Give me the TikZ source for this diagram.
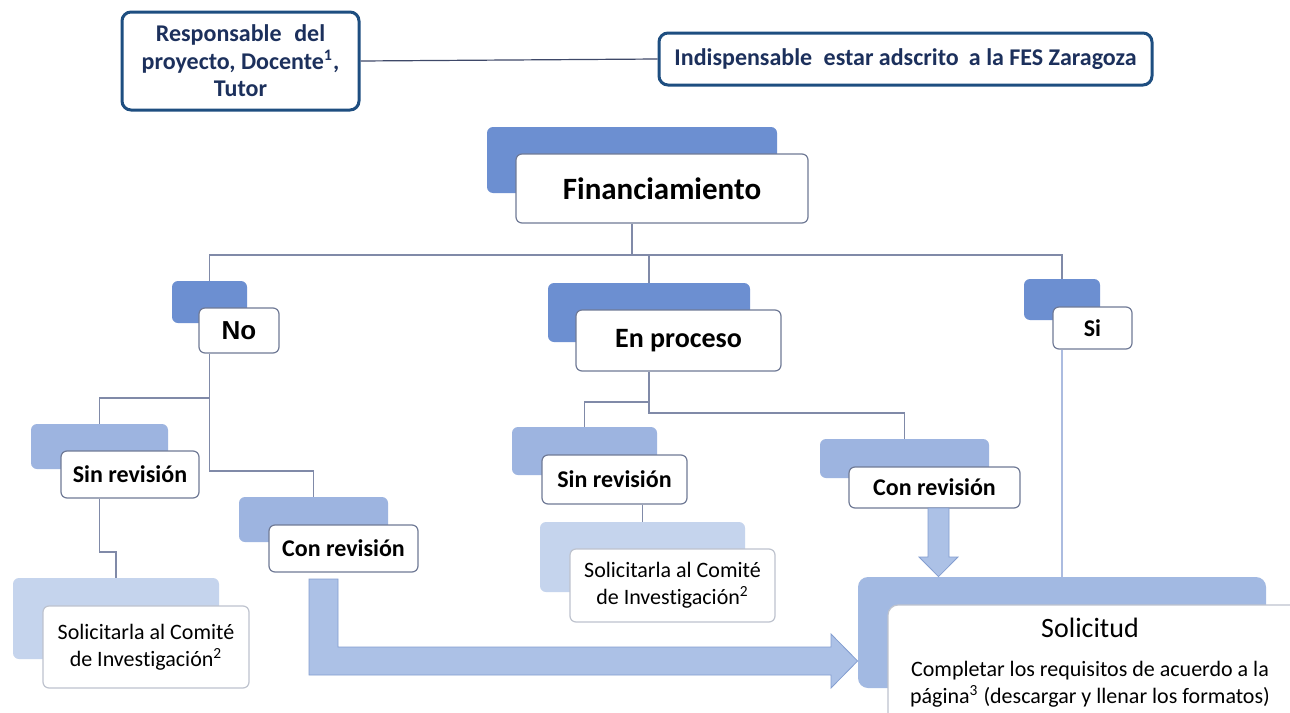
\documentclass[tikz,border=0pt]{standalone}
\usepackage{fontspec}
\setmainfont{Carlito}[Ligatures=NoCommon]
\newfontfamily\arialf{Liberation Sans}
\usetikzlibrary{calc}
\definecolor{backA}{RGB}{108,143,209}
\definecolor{backB}{RGB}{157,180,224}
\definecolor{backC}{RGB}{197,212,237}
\definecolor{backS}{RGB}{162,185,226}
\definecolor{frontline}{RGB}{112,122,150}
\definecolor{lightline}{RGB}{190,195,206}
\definecolor{connc}{RGB}{128,138,168}
\definecolor{siline}{RGB}{172,188,224}
\definecolor{navyline}{RGB}{30,78,128}
\definecolor{navytext}{RGB}{28,48,92}
\definecolor{toplink}{RGB}{62,72,104}
\definecolor{arrowfill}{RGB}{172,193,230}
\definecolor{arrowline}{RGB}{132,158,208}
\begin{document}
\begin{tikzpicture}[x=0.5pt,y=-0.5pt,
  box/.style={inner sep=0pt, align=center, rounded corners=3pt},
  backbox/.style={box, draw=none},
  frontbox/.style={box, fill=white, draw=frontline, line width=0.6pt},
  softbox/.style={box, fill=white, draw=lightline, line width=0.6pt},
  topbox/.style={box, fill=white, draw=navyline, line width=1.5pt, rounded corners=4.5pt, text=navytext, font=\fontsize{12}{13.8}\selectfont\bfseries},
  lbl/.style={font=\fontsize{12}{14}\selectfont\bfseries},
  sollbl/.style={font=\fontsize{11}{13.5}\selectfont},
  conn/.style={draw=connc, line width=0.6pt},
  blockarrow/.style={fill=arrowfill, draw=arrowline, line width=0.4pt}
]
\useasboundingbox (0,0) rectangle (1290,712);
\fill[white] (0,0) rectangle (1290,712);

% top boxes
\node[topbox, minimum width=118.5pt, minimum height=49pt] (resp) at (240.5,61)
  {Responsable\hspace{0.3em} del\\proyecto, Docente\textsuperscript{1},\\Tutor};
\node[topbox, minimum width=246.5pt, minimum height=26pt] (ind) at (905.5,59)
  {Indispensable\hspace{0.25em} estar adscrito\hspace{0.2em} a la FES Zaragoza};
\draw[draw=toplink, line width=0.6pt] (resp.east) -- (ind.west);

% Financiamiento
\node[backbox, fill=backA, minimum width=145pt, minimum height=33pt] (finB) at (632,160) {};
\node[frontbox, minimum width=146pt, minimum height=34.5pt, font=\fontsize{15.5}{18}\selectfont\bfseries] (fin) at (662,188.5) {Financiamiento};

% level 1
\node[backbox, fill=backA, minimum width=37.5pt, minimum height=21pt] (noB) at (209.5,302) {};
\node[frontbox, minimum width=40pt, minimum height=22.5pt, font=\fontsize{13}{15}\selectfont\arialf\bfseries] (no) at (239,330.5) {No};

\node[backbox, fill=backA, minimum width=101pt, minimum height=29.5pt] (epB) at (649,312.5) {};
\node[frontbox, minimum width=102.5pt, minimum height=30.5pt, font=\fontsize{14}{16}\selectfont\bfseries] (ep) at (678.5,340.5) {En proceso};

\node[backbox, fill=backA, minimum width=38pt, minimum height=20.5pt] (siB) at (1062,299.5) {};
\node[frontbox, lbl, minimum width=39.5pt, minimum height=21pt] (si) at (1092.5,328) {Si};

% level 2 (No)
\node[backbox, fill=backB, minimum width=68.5pt, minimum height=22.5pt] (sinLB) at (99.5,446.5) {};
\node[frontbox, lbl, minimum width=69pt, minimum height=23.5pt] (sinL) at (130,474.5) {Sin revisión};

\node[backbox, fill=backB, minimum width=74.5pt, minimum height=22.5pt] (conLB) at (313.5,519.5) {};
\node[frontbox, lbl, minimum width=74.5pt, minimum height=23.5pt] (conL) at (343.5,548.5) {Con revisión};

% level 2 (En proceso)
\node[backbox, fill=backB, minimum width=72.5pt, minimum height=24pt] (sinMB) at (584.5,451) {};
\node[frontbox, lbl, minimum width=72.5pt, minimum height=24.5pt] (sinM) at (614.5,479.5) {Sin revisión};

\node[backbox, fill=backB, minimum width=84.5pt, minimum height=19.5pt] (conMB) at (904.5,458.5) {};
\node[frontbox, lbl, minimum width=85.5pt, minimum height=20.5pt] (conM) at (934.5,487.5) {Con revisión};

% level 3
\node[backbox, fill=backC, minimum width=103pt, minimum height=40.5pt] (solLB) at (116,618.5) {};
\node[softbox, sollbl, minimum width=103pt, minimum height=41pt] (solL) at (146,647) {Solicitarla al Comité\\de Investigación\textsuperscript{2}};

\node[backbox, fill=backC, minimum width=102.5pt, minimum height=35pt] (solMB) at (642.5,557) {};
\node[softbox, sollbl, minimum width=102.5pt, minimum height=36.5pt] (solM) at (672.5,585.5) {Solicitarla al Comité\\de Investigación\textsuperscript{2}};

% Solicitud
\node[backbox, fill=backS, rounded corners=5pt, minimum width=204pt, minimum height=55.5pt] (solB) at (1062,632.5) {};
\node[softbox, rounded corners=5pt, minimum width=211pt, minimum height=62.5pt] (sol) at (1099,667.5) {};
\node[align=center, inner sep=0pt, font=\fontsize{11}{13.5}\selectfont] (solT) at (1090,663)
  {\fontsize{14}{17}\selectfont Solicitud\\[6pt]\fontsize{11}{13.5}\selectfont Completar los requisitos de acuerdo a la\\página\textsuperscript{3} (descargar y llenar los formatos)};

% connectors
\coordinate (j0) at (632,255);
\draw[conn] (finB.center |- fin.south) -- (j0);
\draw[conn] (noB.north) |- (j0) -| (siB.north);
\draw[conn] (epB.north) -- (epB.north |- j0);

\draw[conn] (noB.center |- no.south) |- (conLB.north |- 0,471) -- (conLB.north);
\draw[conn] (noB.center |- 0,398) -| (sinLB.north);
\draw[conn] (sinLB.center |- sinL.south) |- (solLB.north |- 0,552) -- (solLB.north);

\draw[conn] (epB.center |- ep.south) |- (conMB.north |- 0,413) -- (conMB.north);
\draw[conn] (epB.center |- 0,402) -| (sinMB.north);
\draw[conn] (solMB.north |- sinM.south) -- (solMB.north);

\draw[draw=siline, line width=0.8pt] (siB.center |- si.south) -- (siB.center |- solB.north);

% block arrows
\filldraw[blockarrow] (309,579) -- (338,579) -- (338,647) -- (831,647) -- (831,634)
  -- (solB.west |- 0,661) -- (831,688) -- (831,675) -- (309,675) -- cycle;
\filldraw[blockarrow] (928,508) -- (949,508) -- (949,557) -- (958,557)
  -- (938.5,0 |- solB.north) -- (919,557) -- (928,557) -- cycle;
\end{tikzpicture}
\end{document}
